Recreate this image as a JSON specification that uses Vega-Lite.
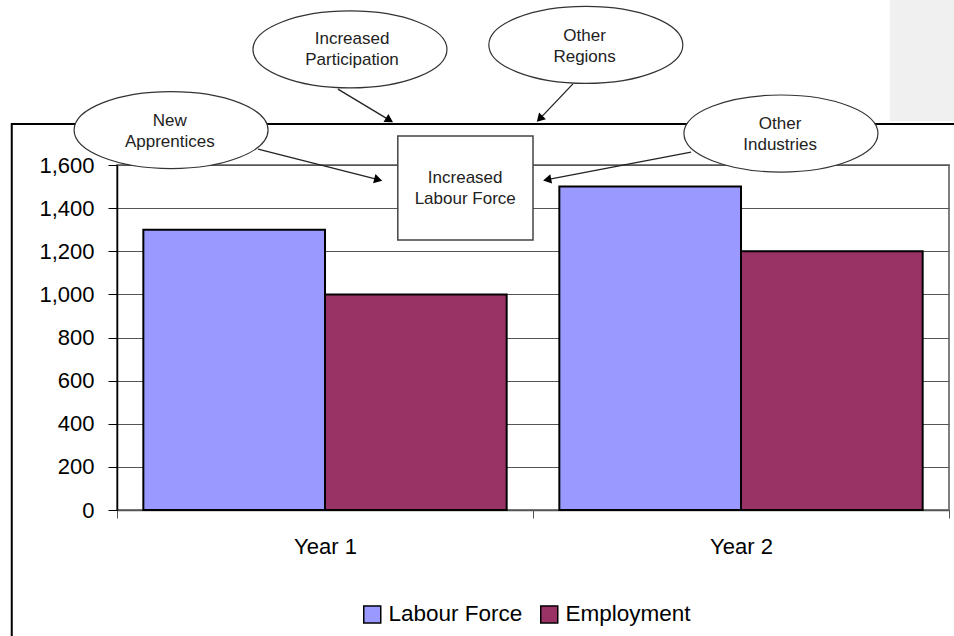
{
  "$schema": "https://vega.github.io/schema/vega-lite/v6.json",
  "width": 832,
  "height": 345,
  "autosize": {"type": "none"},
  "padding": {"left": 117, "top": 165, "right": 5, "bottom": 126},
  "background": "white",
  "config": {
    "font": "Liberation Sans",
    "view": {"stroke": "#808080", "strokeWidth": 2}
  },
  "datasets": {
    "bars": [
      {"year": "Year 1", "series": "Labour Force", "value": 1300},
      {"year": "Year 1", "series": "Employment", "value": 1000},
      {"year": "Year 2", "series": "Labour Force", "value": 1500},
      {"year": "Year 2", "series": "Employment", "value": 1200}
    ],
    "panel": [{"x1": 1.858, "x2": 2.2, "y1": 1804, "y2": 2500}],
    "frame": [{"x1": -0.253, "x2": 2.2, "y1": -700, "y2": 1790}],
    "arrows": [
      {"x1": 0.339, "y1": 1674, "x2": 0.628, "y2": 1532},
      {"x1": 0.531, "y1": 1952, "x2": 0.655, "y2": 1808},
      {"x1": 1.096, "y1": 1976, "x2": 1.016, "y2": 1814},
      {"x1": 1.380, "y1": 1660, "x2": 1.034, "y2": 1532}
    ],
    "ellipses": [
      {"x": 0.130, "y": 1762, "label": "New\nApprentices", "tx": 0.127, "ty": 1806},
      {"x": 0.560, "y": 2136, "label": "Increased\nParticipation", "tx": 0.565, "ty": 2185},
      {"x": 1.127, "y": 2157, "label": "Other\nRegions", "tx": 1.124, "ty": 2200},
      {"x": 1.596, "y": 1746, "label": "Other\nIndustries", "tx": 1.594, "ty": 1788}
    ],
    "box": [{"x1": 0.675, "x2": 1.0, "y1": 1252, "y2": 1734, "label": "Increased\nLabour Force", "tx": 0.837, "ty": 1538}]
  },
  "layer": [
    {
      "data": {"name": "panel"},
      "mark": {"type": "rect", "fill": "#f0f0f0"},
      "encoding": {
        "x": {"field": "x1", "type": "quantitative", "axis": null, "scale": {"domain": [0, 2], "nice": false, "zero": false}},
        "x2": {"field": "x2"},
        "y": {"field": "y1", "type": "quantitative", "axis": null, "scale": {"domain": [0, 1600], "nice": false, "zero": false}},
        "y2": {"field": "y2"}
      }
    },
    {
      "data": {"name": "frame"},
      "mark": {"type": "rect", "fill": "transparent", "stroke": "black", "strokeWidth": 2},
      "encoding": {
        "x": {"field": "x1", "type": "quantitative", "axis": null, "scale": {"domain": [0, 2], "nice": false, "zero": false}},
        "x2": {"field": "x2"},
        "y": {"field": "y1", "type": "quantitative", "axis": null, "scale": {"domain": [0, 1600], "nice": false, "zero": false}},
        "y2": {"field": "y2"}
      }
    },
    {
      "data": {"name": "bars"},
      "mark": {"type": "bar", "stroke": "black", "strokeWidth": 2},
      "encoding": {
        "x": {
          "field": "year", "type": "nominal",
          "scale": {"paddingInner": 0, "paddingOuter": 0},
          "axis": {
            "title": null, "labelAngle": 0, "labelFontSize": 22, "labelColor": "black",
            "tickBand": "extent", "tickSize": 8, "tickColor": "#555", "domainColor": "#555",
            "domainWidth": 1.5, "labelPadding": 18, "grid": false
          }
        },
        "xOffset": {
          "field": "series", "type": "nominal", "sort": ["Labour Force", "Employment"],
          "scale": {"paddingOuter": 0.145, "paddingInner": 0}
        },
        "y": {
          "field": "value", "type": "quantitative",
          "scale": {"domain": [0, 1600], "nice": false},
          "axis": {
            "title": null, "values": [0, 200, 400, 600, 800, 1000, 1200, 1400, 1600],
            "format": ",.0f", "labelFontSize": 22, "labelColor": "black",
            "tickSize": 9, "tickColor": "black", "labelPadding": 14,
            "domainColor": "black", "domainWidth": 1.5,
            "grid": true, "gridColor": "#555", "gridWidth": 1
          }
        },
        "color": {
          "field": "series", "type": "nominal", "sort": ["Labour Force", "Employment"],
          "scale": {"domain": ["Labour Force", "Employment"], "range": ["#9999FF", "#993366"]},
          "legend": {
            "title": null, "orient": "none", "direction": "horizontal",
            "legendX": 244, "legendY": 438,
            "symbolType": "square", "symbolSize": 289,
            "symbolStrokeColor": "black", "symbolStrokeWidth": 1.5,
            "labelFontSize": 22.5, "labelColor": "black", "labelOffset": 5,
            "columnPadding": 14
          }
        }
      }
    },
    {
      "data": {"name": "arrows"},
      "mark": {"type": "rule", "stroke": "#222", "strokeWidth": 1.3},
      "encoding": {
        "x": {"field": "x1", "type": "quantitative", "axis": null, "scale": {"domain": [0, 2], "nice": false, "zero": false}},
        "x2": {"field": "x2"},
        "y": {"field": "y1", "type": "quantitative", "axis": null, "scale": {"domain": [0, 1600], "nice": false, "zero": false}},
        "y2": {"field": "y2"}
      }
    },
    {
      "data": {"name": "arrows"},
      "transform": [
        {"calculate": "atan2((datum.x2 - datum.x1) * 416, (datum.y2 - datum.y1) * 0.215625) * 180 / PI", "as": "ang"}
      ],
      "mark": {"type": "point", "shape": "triangle-up", "filled": true, "color": "black", "opacity": 1, "size": 90},
      "encoding": {
        "x": {"field": "x2", "type": "quantitative", "axis": null, "scale": {"domain": [0, 2], "nice": false, "zero": false}},
        "y": {"field": "y2", "type": "quantitative", "axis": null, "scale": {"domain": [0, 1600], "nice": false, "zero": false}},
        "angle": {"field": "ang", "type": "quantitative", "scale": null}
      }
    },
    {
      "data": {"name": "ellipses"},
      "mark": {
        "type": "point",
        "shape": "M-1,0C-1,-0.2193,-0.5523,-0.397,0,-0.397C0.5523,-0.397,1,-0.2193,1,0C1,0.2193,0.5523,0.397,0,0.397C-0.5523,0.397,-1,0.2193,-1,0Z",
        "size": 37636, "filled": true, "fill": "white", "stroke": "#333", "strokeWidth": 1.2,
        "opacity": 1, "fillOpacity": 1, "strokeOpacity": 1
      },
      "encoding": {
        "x": {"field": "x", "type": "quantitative", "axis": null, "scale": {"domain": [0, 2], "nice": false, "zero": false}},
        "y": {"field": "y", "type": "quantitative", "axis": null, "scale": {"domain": [0, 1600], "nice": false, "zero": false}}
      }
    },
    {
      "data": {"name": "ellipses"},
      "mark": {"type": "text", "lineBreak": "\n", "fontSize": 17, "lineHeight": 21, "align": "center", "baseline": "middle", "color": "#222"},
      "encoding": {
        "x": {"field": "tx", "type": "quantitative", "axis": null, "scale": {"domain": [0, 2], "nice": false, "zero": false}},
        "y": {"field": "ty", "type": "quantitative", "axis": null, "scale": {"domain": [0, 1600], "nice": false, "zero": false}},
        "text": {"field": "label"}
      }
    },
    {
      "data": {"name": "box"},
      "mark": {"type": "rect", "fill": "white", "stroke": "#444", "strokeWidth": 1.5},
      "encoding": {
        "x": {"field": "x1", "type": "quantitative", "axis": null, "scale": {"domain": [0, 2], "nice": false, "zero": false}},
        "x2": {"field": "x2"},
        "y": {"field": "y1", "type": "quantitative", "axis": null, "scale": {"domain": [0, 1600], "nice": false, "zero": false}},
        "y2": {"field": "y2"}
      }
    },
    {
      "data": {"name": "box"},
      "mark": {"type": "text", "lineBreak": "\n", "fontSize": 17, "lineHeight": 21, "align": "center", "baseline": "middle", "color": "#222"},
      "encoding": {
        "x": {"field": "tx", "type": "quantitative", "axis": null, "scale": {"domain": [0, 2], "nice": false, "zero": false}},
        "y": {"field": "ty", "type": "quantitative", "axis": null, "scale": {"domain": [0, 1600], "nice": false, "zero": false}},
        "text": {"field": "label"}
      }
    }
  ],
  "resolve": {"scale": {"x": "independent", "y": "independent", "color": "independent"}}
}
